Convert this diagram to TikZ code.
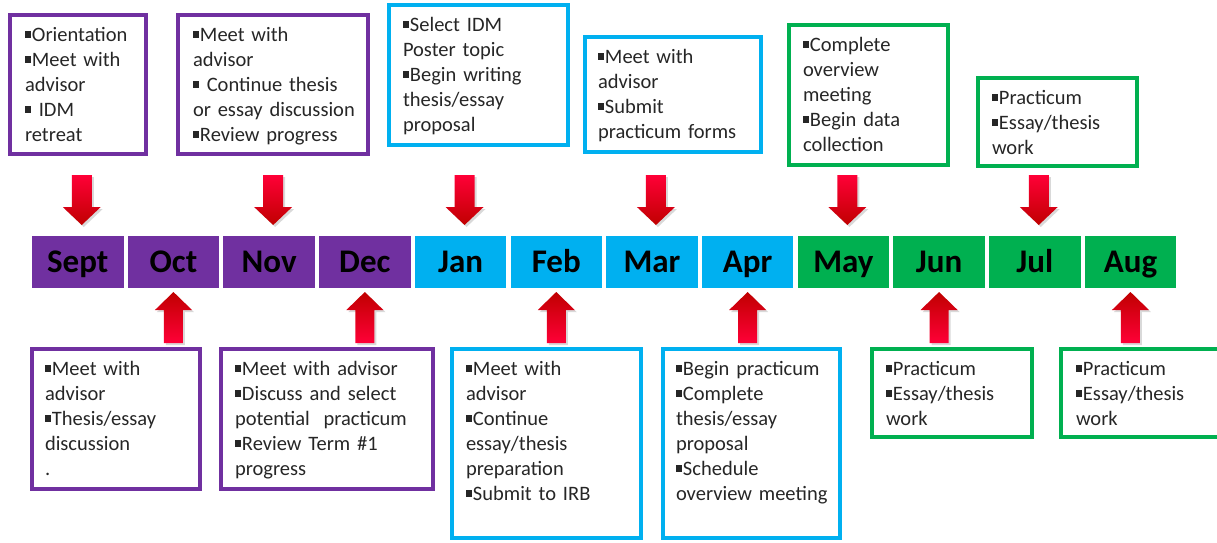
\documentclass[tikz,border=0pt]{standalone}
\usepackage{fontspec}
\setmainfont{Carlito}
\definecolor{cpurple}{RGB}{112,48,160}
\definecolor{ccyan}{RGB}{0,176,240}
\definecolor{cgreen}{RGB}{0,176,80}
\definecolor{arrtop}{RGB}{255,0,55}
\definecolor{arrbot}{RGB}{192,0,0}
\newcommand\bul{\strut\rule[0.15em]{0.3em}{0.32em}\hspace{0.04em}}
\newcommand\dnarr[1]{%
  \fill[black,opacity=0.15] ([shift={(-8,-59)}]#1) -- ([shift={(12,-59)}]#1) -- ([shift={(12,-27)}]#1) -- ([shift={(21,-27)}]#1) -- ([shift={(2,-9)}]#1) -- ([shift={(-17,-27)}]#1) -- ([shift={(-8,-27)}]#1) -- cycle;
  \shade[top color=arrtop, bottom color=arrbot] ([shift={(-10,-61)}]#1) -- ([shift={(10,-61)}]#1) -- ([shift={(10,-29)}]#1) -- ([shift={(19,-29)}]#1) -- ([shift={(0,-11)}]#1) -- ([shift={(-19,-29)}]#1) -- ([shift={(-10,-29)}]#1) -- cycle;}
\newcommand\uparr[1]{%
  \fill[black,opacity=0.15] ([shift={(-7.5,57)}]#1) -- ([shift={(11.5,57)}]#1) -- ([shift={(11.5,24)}]#1) -- ([shift={(20.5,24)}]#1) -- ([shift={(2,6)}]#1) -- ([shift={(-16.5,24)}]#1) -- ([shift={(-7.5,24)}]#1) -- cycle;
  \shade[top color=arrbot, bottom color=arrtop] ([shift={(-9.5,55)}]#1) -- ([shift={(9.5,55)}]#1) -- ([shift={(9.5,22)}]#1) -- ([shift={(18.5,22)}]#1) -- ([shift={(0,4)}]#1) -- ([shift={(-18.5,22)}]#1) -- ([shift={(-9.5,22)}]#1) -- cycle;}
\tikzset{
  every node/.style={outer sep=0pt},
  tbox/.style={draw=#1, line width=4pt, anchor=north west, inner sep=0pt},
  month/.style={fill=#1, minimum width=91.5pt, minimum height=52pt, inner sep=0pt,
    text height=21pt, text depth=0pt, font=\fontsize{33}{33}\selectfont\bfseries},
  txt/.style={anchor=north west, inner sep=0pt, align=left, text width=260pt,
    font=\fontsize{20.5}{25}\selectfont, text=black!85}
}
\begin{document}
\begin{tikzpicture}[x=1pt,y=-1pt]
\useasboundingbox (0,0) rectangle (1217,542);
\clip (0,0) rectangle (1217,542);
% month bar
\foreach \n/\c [count=\i] in {Sept/cpurple,Oct/cpurple,Nov/cpurple,Dec/cpurple,Jan/ccyan,Feb/ccyan,Mar/ccyan,Apr/ccyan,May/cgreen,Jun/cgreen,Jul/cgreen,Aug/cgreen}
  \node[month=\c] (m\i) at ({77.75+95.7*(\i-1)},262) {\n};
% top boxes
\node[tbox=cpurple, minimum width=136pt, minimum height=139pt] (T1) at (10,15) {};
\node[tbox=cpurple, minimum width=190pt, minimum height=139pt] (T2) at (178,15) {};
\node[tbox=ccyan, minimum width=179pt, minimum height=140pt] (T3) at (389,5) {};
\node[tbox=ccyan, minimum width=176pt, minimum height=115pt] (T4) at (585,37) {};
\node[tbox=cgreen, minimum width=159pt, minimum height=140pt] (T5) at (789,25) {};
\node[tbox=cgreen, minimum width=159pt, minimum height=88pt] (T6) at (978,78) {};
% bottom boxes
\node[tbox=cpurple, minimum width=168pt, minimum height=140pt] (B1) at (32,349) {};
\node[tbox=cpurple, minimum width=212pt, minimum height=140pt] (B2) at (221,349) {};
\node[tbox=ccyan, minimum width=189pt, minimum height=189pt] (B3) at (452,349) {};
\node[tbox=ccyan, minimum width=177pt, minimum height=189pt] (B4) at (663,349) {};
\node[tbox=cgreen, minimum width=160pt, minimum height=88pt] (B5) at (872,349) {};
\node[tbox=cgreen, minimum width=161pt, minimum height=88pt] (B6) at (1061,349) {};
% texts
\node[txt] (T1t) at (25,23.5) {\bul Orientation\\\bul Meet with\\advisor\\\bul{} IDM\\retreat};
\node[txt] (T2t) at (193,23.5) {\bul Meet with\\advisor\\\bul{} Continue thesis\\or essay discussion\\\bul Review progress};
\node[txt] (T3t) at (403,13.5) {\bul Select IDM\\Poster topic\\\bul Begin writing\\thesis/essay\\proposal};
\node[txt] (T4t) at (598,45.5) {\bul Meet with\\advisor\\\bul Submit\\practicum forms};
\node[txt] (T5t) at (803,33.5) {\bul Complete\\overview\\meeting\\\bul Begin data\\collection};
\node[txt] (T6t) at (992,86.5) {\bul Practicum\\\bul Essay/thesis\\work};
\node[txt] (B1t) at (45,357.5) {\bul Meet with\\advisor\\\bul Thesis/essay\\discussion\\.};
\node[txt] (B2t) at (235,357.5) {\bul Meet with advisor\\\bul Discuss and select\\potential\ \ practicum\\\bul Review Term \#1\\progress};
\node[txt] (B3t) at (466,357.5) {\bul Meet with\\advisor\\\bul Continue\\essay/thesis\\preparation\\\bul Submit to IRB};
\node[txt] (B4t) at (676,357.5) {\bul Begin practicum\\\bul Complete\\thesis/essay\\proposal\\\bul Schedule\\overview meeting};
\node[txt] (B5t) at (886,357.5) {\bul Practicum\\\bul Essay/thesis\\work};
\node[txt] (B6t) at (1076,357.5) {\bul Practicum\\\bul Essay/thesis\\work};
% arrows from top boxes down to months
\foreach \k in {1,3,5,7,9,11} {
  \coordinate (d\k) at ([xshift=4pt]m\k.north);
  \dnarr{d\k}
}
% arrows from months up... to bottom boxes
\foreach \k in {2,4,6,8,10,12} {
  \coordinate (u\k) at (m\k.south);
  \uparr{u\k}
}
\end{tikzpicture}
\end{document}
